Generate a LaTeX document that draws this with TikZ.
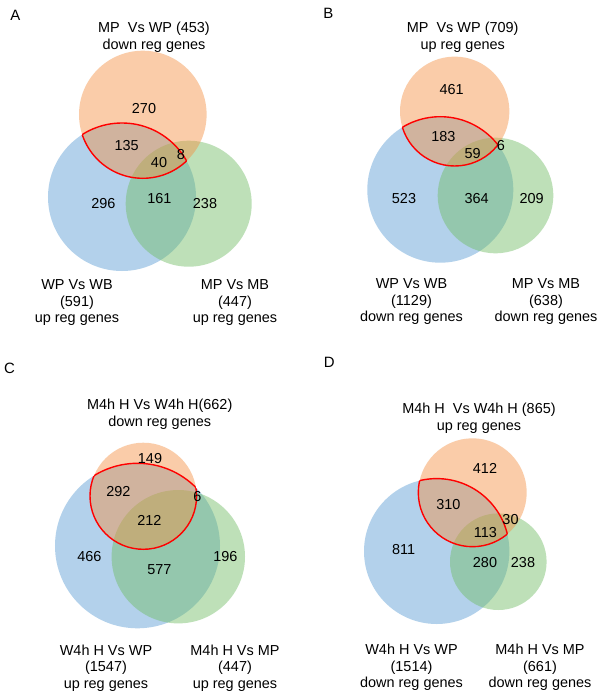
\documentclass[tikz,border=0pt]{standalone}
\usepackage{fontspec}
\setmainfont{Liberation Sans}
\definecolor{oC}{RGB}{244,144,66}
\definecolor{bC}{RGB}{88,155,211}
\definecolor{gC}{RGB}{111,188,99}
\begin{document}
\begin{tikzpicture}[x=1bp,y=-1bp,
  ofill/.style={fill=oC,fill opacity=0.45},
  bfill/.style={fill=bC,fill opacity=0.45},
  gfill/.style={fill=gC,fill opacity=0.45},
  redline/.style={draw=red,line width=1.4bp},
  txt/.style={font=\fontsize{14.5}{16.7}\selectfont,inner sep=0pt,align=center,text=black},
  num/.style={font=\fontsize{14.5}{16.7}\selectfont,inner sep=0pt,text=black},
  panel/.style={font=\fontsize{15}{18}\selectfont,inner sep=0pt}]
\useasboundingbox[fill=white] (0,0) rectangle (600,694);

% ---------------- Panel A ----------------
\coordinate (Ao) at (142.8,114.5);
\coordinate (Ab) at (122,197);
\coordinate (Ag) at (188.7,203.7);
\fill[bfill] (Ab) circle (74bp);
\fill[gfill] (Ag) circle (63bp);
\fill[ofill] (Ao) circle (63.8bp);
\begin{scope}\clip (Ao) circle (63.8bp); \draw[redline] (Ab) circle (74bp);\end{scope}
\begin{scope}\clip (Ab) circle (74bp); \draw[redline] (Ao) circle (63.8bp);\end{scope}
\node[panel] (pA) at (15.3,15) {A};
\node[txt] (tA) at (154,37) {MP\ \ Vs WP (453)\\down reg genes};
\node[txt] (lA) at (77,302.7) {WP Vs WB\\(591)\\up reg genes};
\node[txt] (rA) at (235,302.7) {MP Vs MB\\(447)\\up reg genes};
\node[num] (a1) at (144,108.3) {270};
\node[num] (a2) at (126.7,145.7) {135};
\node[num] (a3) at (159,162.3) {40};
\node[num] (a4) at (181,155) {8};
\node[num] (a5) at (103.3,204) {296};
\node[num] (a6) at (159.3,198.3) {161};
\node[num] (a7) at (205,204) {238};

% ---------------- Panel B ----------------
\coordinate (Bo) at (454.7,111.3);
\coordinate (Bb) at (440.3,189.7);
\coordinate (Bg) at (495.5,195.5);
\fill[bfill] (Bb) circle (73bp);
\fill[gfill] (Bg) circle (57.8bp);
\fill[ofill] (Bo) circle (54.7bp);
\begin{scope}\clip (Bo) circle (54.7bp); \draw[redline] (Bb) circle (73bp);\end{scope}
\begin{scope}\clip (Bb) circle (73bp); \draw[redline] (Bo) circle (54.7bp);\end{scope}
\node[panel] (pB) at (328.3,13.5) {B};
\node[txt] (tB) at (462.7,37) {MP\ \ Vs WP (709)\\up reg genes};
\node[txt] (lB) at (411.5,301.7) {WP Vs WB\\(1129)\\down reg genes};
\node[txt] (rB) at (546,301.7) {MP Vs MB\\(638)\\down reg genes};
\node[num] (b1) at (451.7,90) {461};
\node[num] (b2) at (443.3,136.7) {183};
\node[num] (b3) at (472.7,154) {59};
\node[num] (b4) at (501,145.7) {6};
\node[num] (b5) at (404,198.3) {523};
\node[num] (b6) at (476.7,198.3) {364};
\node[num] (b7) at (531.7,198.3) {209};

% ---------------- Panel C ----------------
\coordinate (Co) at (143.3,496);
\coordinate (Cb) at (137.5,545.8);
\coordinate (Cg) at (178.3,556.7);
\fill[bfill] (Cb) circle (82.5bp);
\fill[gfill] (Cg) circle (66.7bp);
\fill[ofill] (Co) circle (53.3bp);
\begin{scope}\clip (Co) circle (53.3bp); \draw[redline] (Cb) circle (82.5bp);\end{scope}
\begin{scope}\clip (Cb) circle (82.5bp); \draw[redline] (Co) circle (53.3bp);\end{scope}
\node[panel] (pC) at (9.5,368.3) {C};
\node[txt] (tC) at (159.7,414) {M4h H Vs W4h H(662)\\down reg genes};
\node[txt] (lC) at (106,668) {W4h H Vs WP\\(1547)\\up reg genes};
\node[txt] (rC) at (235,668) {M4h H Vs MP\\(447)\\up reg genes};
\node[num] (c1) at (150,459) {149};
\node[num] (c2) at (118.3,491.7) {292};
\node[num] (c3) at (197.3,496.7) {6};
\node[num] (c4) at (149.3,520) {212};
\node[num] (c5) at (89.3,556.7) {466};
\node[num] (c6) at (159.3,570) {577};
\node[num] (c7) at (225.3,556.7) {196};

% ---------------- Panel D ----------------
\coordinate (Do) at (472.5,492.5);
\coordinate (Db) at (436.7,551.3);
\coordinate (Dg) at (498.3,561.7);
\fill[bfill] (Db) circle (72.7bp);
\fill[gfill] (Dg) circle (48.3bp);
\fill[ofill] (Do) circle (54.2bp);
\begin{scope}\clip (Do) circle (54.2bp); \draw[redline] (Db) circle (72.7bp);\end{scope}
\begin{scope}\clip (Db) circle (72.7bp); \draw[redline] (Do) circle (54.2bp);\end{scope}
\node[panel] (pD) at (329.3,362.7) {D};
\node[txt] (tD) at (479,418) {M4h H\ \ Vs W4h H (865)\\up reg genes};
\node[txt] (lD) at (411.5,667.5) {W4h H Vs WP\\(1514)\\down reg genes};
\node[txt] (rD) at (540,667.5) {M4h H Vs MP\\(661)\\down reg genes};
\node[num] (d1) at (485,468.3) {412};
\node[num] (d2) at (448.3,504.2) {310};
\node[num] (d3) at (510.5,519.7) {30};
\node[num] (d4) at (485.3,532.2) {113};
\node[num] (d5) at (403.7,549.5) {811};
\node[num] (d6) at (485,562.3) {280};
\node[num] (d7) at (523,562.3) {238};
\end{tikzpicture}
\end{document}
